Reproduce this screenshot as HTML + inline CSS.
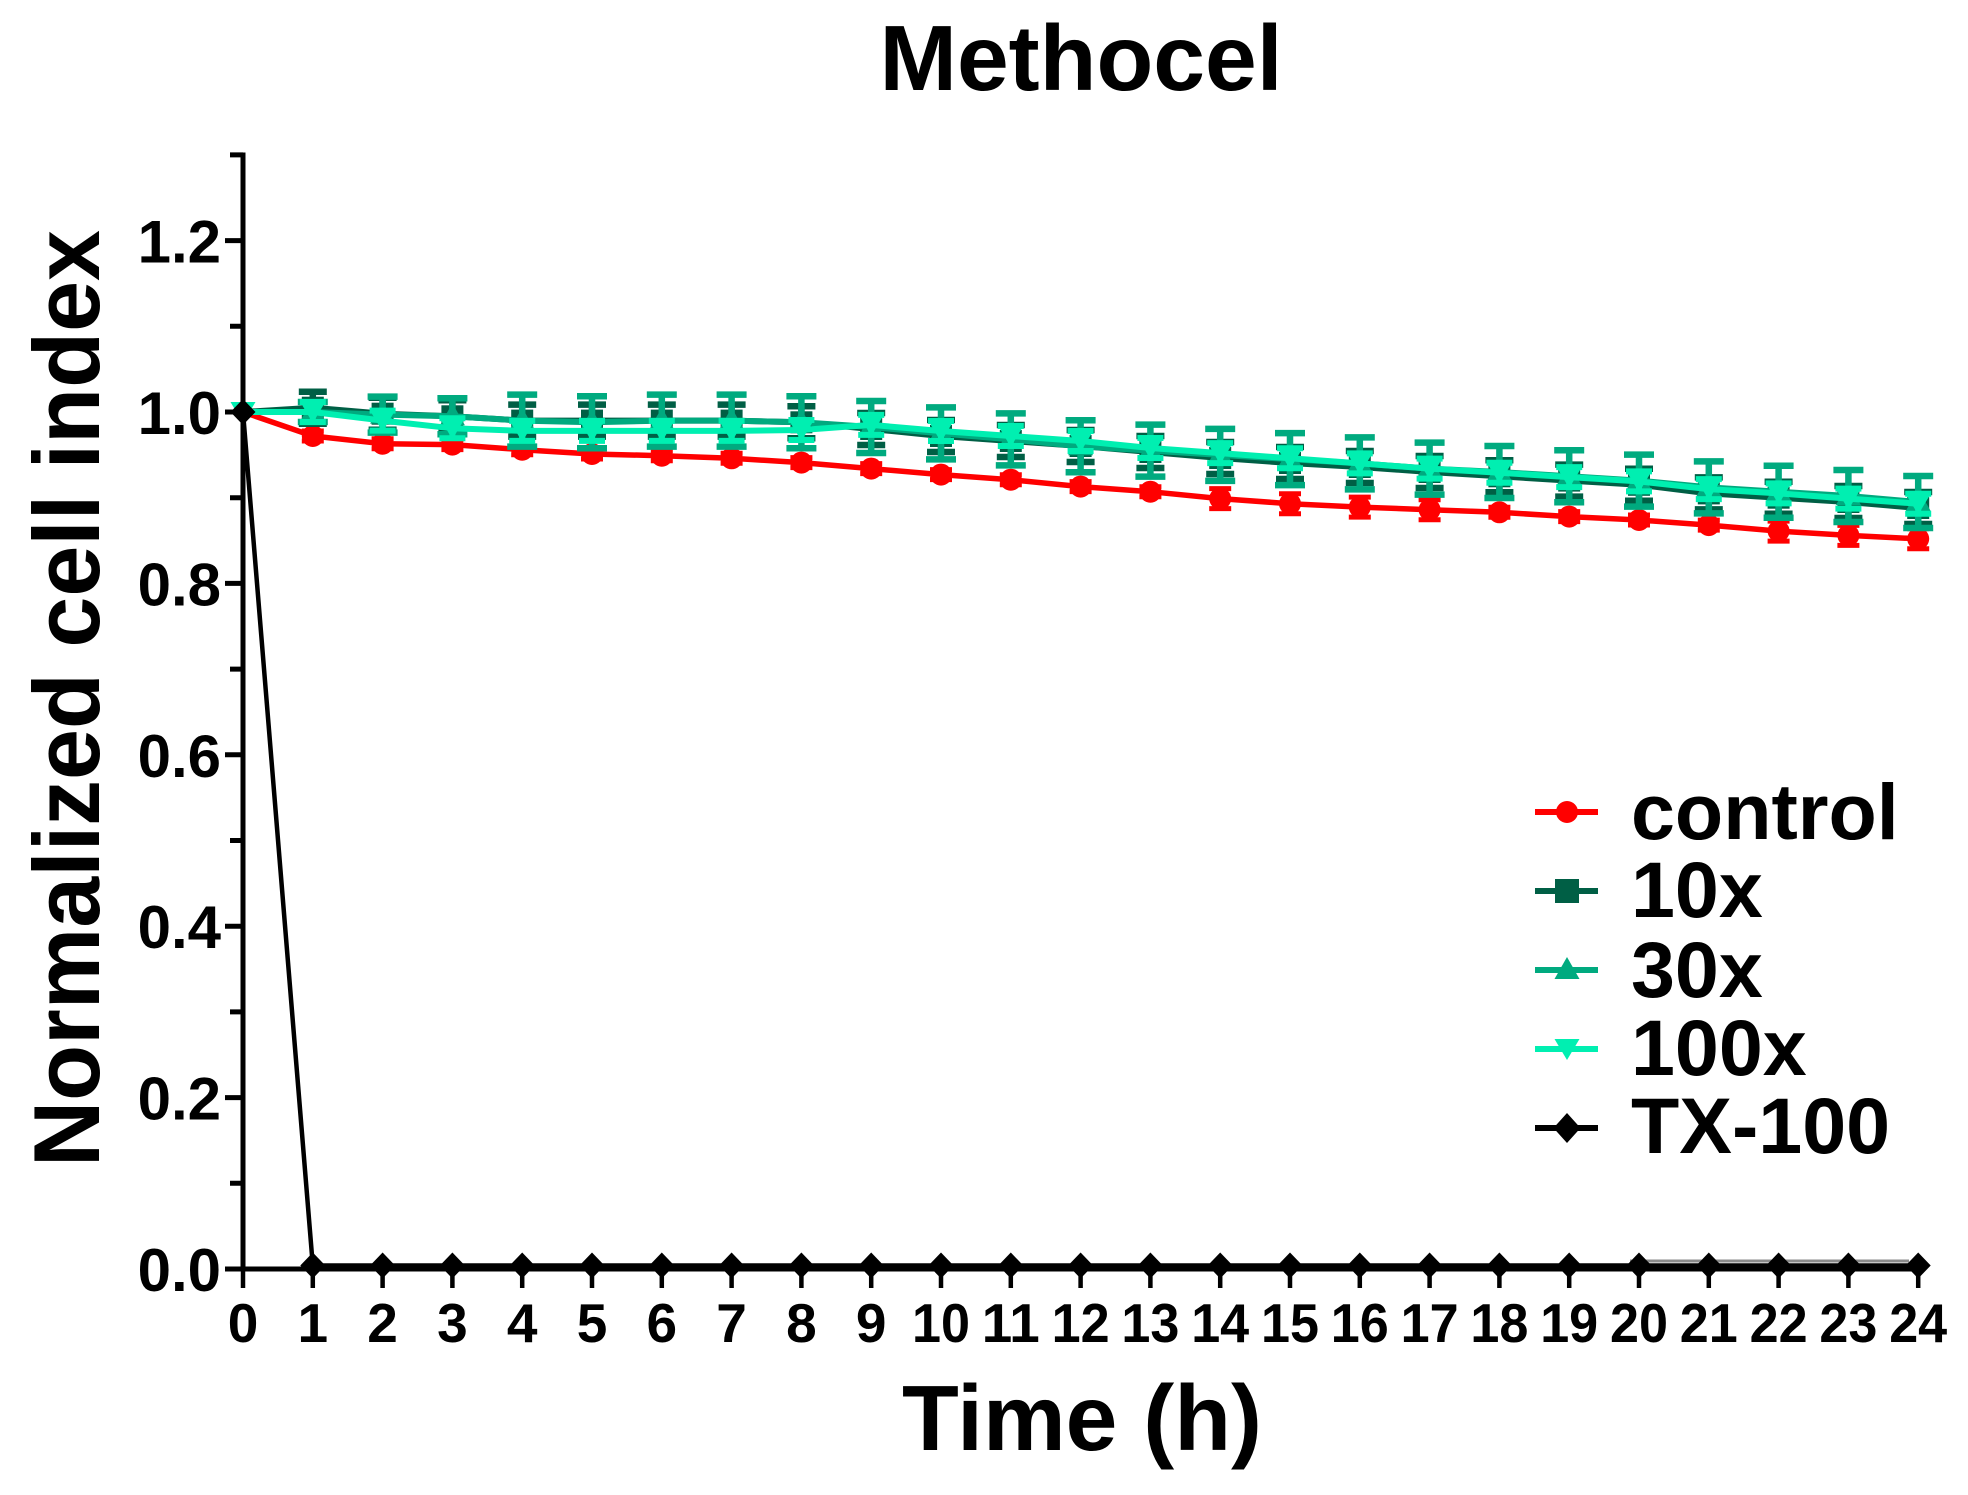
<!DOCTYPE html>
<html>
<head>
<meta charset="utf-8">
<style>
html,body{margin:0;padding:0;background:#fff;}
svg{display:block;}
</style>
</head>
<body>
<svg width="1968" height="1495" viewBox="0 0 1968 1495" xmlns="http://www.w3.org/2000/svg" font-family="'Liberation Sans', Arial, sans-serif" font-weight="bold">
<defs>
<circle id="mc" r="11" fill="#ff0000"/>
<rect id="m10" x="-11" y="-11" width="22" height="22" fill="#005f45"/>
<polygon id="m30" points="0,-13 12.5,9 -12.5,9" fill="#00aa7f"/>
<polygon id="m100" points="0,11 12.5,-10 -12.5,-10" fill="#00efb1"/>
<polygon id="mtx" points="0,-13 12.5,0 0,13 -12.5,0" fill="#000"/>
<path id="ec" d="M-11 -10h22M0 -10V10M-11 10h22" stroke="#ff0000" stroke-width="5" fill="none"/>
<path id="ec2" d="M-11 -5h22M0 -5V5M-11 5h22" stroke="#ff0000" stroke-width="5" fill="none"/>
<path id="e10" d="M-14 -16h28M0 -16V16M-14 16h28" stroke="#005f45" stroke-width="6.5" fill="none"/>
<path id="e30" d="M-15 -26h30M0 -26V26M-15 26h30" stroke="#00aa7f" stroke-width="6.5" fill="none"/>
<path id="e30b" d="M-15 -18h30M0 -18V18M-15 18h30" stroke="#00aa7f" stroke-width="6.5" fill="none"/>
<path id="e30c" d="M-15 -10h30M0 -10V10M-15 10h30" stroke="#00aa7f" stroke-width="6.5" fill="none"/>
<path id="e100" d="M-13 -10h26M0 -10V10M-13 10h26" stroke="#00efb1" stroke-width="6" fill="none"/>
</defs>

<!-- Title -->
<text x="1081" y="90" font-size="93" text-anchor="middle" fill="#000">Methocel</text>

<!-- Axis labels -->
<text transform="translate(99,698.5) rotate(-90)" text-anchor="middle" font-size="94" textLength="937" lengthAdjust="spacingAndGlyphs" fill="#000">Normalized cell index</text>
<text x="1082" y="1450" font-size="93" text-anchor="middle" fill="#000">Time (h)</text>

<!-- Axes -->
<path d="M243 152.5V1271.5" stroke="#000" stroke-width="5" fill="none"/>
<path d="M225 1269H1920" stroke="#000" stroke-width="5" fill="none"/>
<!-- Y major ticks -->
<path d="M225 1269H243M225 1097.6H243M225 926.2H243M225 754.8H243M225 583.4H243M225 412H243M225 240.6H243" stroke="#000" stroke-width="5" fill="none"/>
<!-- Y minor ticks -->
<path d="M230 1183.3H243M230 1011.9H243M230 840.5H243M230 669.1H243M230 497.7H243M230 326.3H243M230 154.9H243" stroke="#000" stroke-width="5" fill="none"/>
<!-- X ticks -->
<path d="M243 1269V1288M312.8 1269V1288M382.6 1269V1288M452.4 1269V1288M522.2 1269V1288M592 1269V1288M661.8 1269V1288M731.6 1269V1288M801.4 1269V1288M871.2 1269V1288M941 1269V1288M1010.8 1269V1288M1080.6 1269V1288M1150.4 1269V1288M1220.2 1269V1288M1290 1269V1288M1359.8 1269V1288M1429.6 1269V1288M1499.4 1269V1288M1569.2 1269V1288M1639 1269V1288M1708.8 1269V1288M1778.6 1269V1288M1848.4 1269V1288M1918.2 1269V1288" stroke="#000" stroke-width="4.5" fill="none"/>

<!-- Y tick labels -->
<g font-size="60" text-anchor="end" fill="#000">
<text x="221" y="1291">0.0</text>
<text x="221" y="1119.6">0.2</text>
<text x="221" y="948.2">0.4</text>
<text x="221" y="776.8">0.6</text>
<text x="221" y="605.4">0.8</text>
<text x="221" y="434">1.0</text>
<text x="221" y="262.6">1.2</text>
</g>

<!-- X tick labels -->
<g font-size="55" text-anchor="middle" fill="#000">
<text x="243" y="1342">0</text>
<text x="312.8" y="1342">1</text>
<text x="382.6" y="1342">2</text>
<text x="452.4" y="1342">3</text>
<text x="522.2" y="1342">4</text>
<text x="592" y="1342">5</text>
<text x="661.8" y="1342">6</text>
<text x="731.6" y="1342">7</text>
<text x="801.4" y="1342">8</text>
<text x="871.2" y="1342">9</text>
<text x="941" y="1342" textLength="58" lengthAdjust="spacingAndGlyphs">10</text>
<text x="1010.8" y="1342" textLength="58" lengthAdjust="spacingAndGlyphs">11</text>
<text x="1080.6" y="1342" textLength="58" lengthAdjust="spacingAndGlyphs">12</text>
<text x="1150.4" y="1342" textLength="58" lengthAdjust="spacingAndGlyphs">13</text>
<text x="1220.2" y="1342" textLength="58" lengthAdjust="spacingAndGlyphs">14</text>
<text x="1290" y="1342" textLength="58" lengthAdjust="spacingAndGlyphs">15</text>
<text x="1359.8" y="1342" textLength="58" lengthAdjust="spacingAndGlyphs">16</text>
<text x="1429.6" y="1342" textLength="58" lengthAdjust="spacingAndGlyphs">17</text>
<text x="1499.4" y="1342" textLength="58" lengthAdjust="spacingAndGlyphs">18</text>
<text x="1569.2" y="1342" textLength="58" lengthAdjust="spacingAndGlyphs">19</text>
<text x="1639" y="1342" textLength="58" lengthAdjust="spacingAndGlyphs">20</text>
<text x="1708.8" y="1342" textLength="58" lengthAdjust="spacingAndGlyphs">21</text>
<text x="1778.6" y="1342" textLength="58" lengthAdjust="spacingAndGlyphs">22</text>
<text x="1848.4" y="1342" textLength="58" lengthAdjust="spacingAndGlyphs">23</text>
<text x="1918.2" y="1342" textLength="58" lengthAdjust="spacingAndGlyphs">24</text>
</g>

<!-- Control series -->
<polyline fill="none" stroke="#ff0000" stroke-width="5.5" stroke-linejoin="round" points="243,412 312.8,436 382.6,443.7 452.4,444.6 522.2,449.7 592,454 661.8,455.7 731.6,458.3 801.4,462.6 871.2,468.6 941,474.6 1010.8,479.7 1080.6,486.6 1150.4,491.7 1220.2,498.6 1290,503.7 1359.8,507.1 1429.6,509.7 1499.4,512.3 1569.2,516.6 1639,520 1708.8,525.1 1778.6,531.1 1848.4,535.4 1918.2,538.8"/>
<use href="#ec2" x="312.8" y="436"/>
<use href="#ec2" x="382.6" y="443.7"/>
<use href="#ec2" x="452.4" y="444.6"/>
<use href="#ec2" x="522.2" y="449.7"/>
<use href="#ec2" x="592" y="454"/>
<use href="#ec2" x="661.8" y="455.7"/>
<use href="#ec2" x="731.6" y="458.3"/>
<use href="#ec2" x="801.4" y="462.6"/>
<use href="#ec2" x="871.2" y="468.6"/>
<use href="#ec2" x="941" y="474.6"/>
<use href="#ec2" x="1010.8" y="479.7"/>
<use href="#ec2" x="1080.6" y="486.6"/>
<use href="#ec2" x="1150.4" y="491.7"/>
<use href="#ec" x="1220.2" y="498.6"/>
<use href="#ec" x="1290" y="503.7"/>
<use href="#ec" x="1359.8" y="507.1"/>
<use href="#ec" x="1429.6" y="509.7"/>
<use href="#ec2" x="1499.4" y="512.3"/>
<use href="#ec2" x="1569.2" y="516.6"/>
<use href="#ec2" x="1639" y="520"/>
<use href="#ec2" x="1708.8" y="525.1"/>
<use href="#ec" x="1778.6" y="531.1"/>
<use href="#ec" x="1848.4" y="535.4"/>
<use href="#ec" x="1918.2" y="538.8"/>
<use href="#mc" x="312.8" y="436"/>
<use href="#mc" x="382.6" y="443.7"/>
<use href="#mc" x="452.4" y="444.6"/>
<use href="#mc" x="522.2" y="449.7"/>
<use href="#mc" x="592" y="454"/>
<use href="#mc" x="661.8" y="455.7"/>
<use href="#mc" x="731.6" y="458.3"/>
<use href="#mc" x="801.4" y="462.6"/>
<use href="#mc" x="871.2" y="468.6"/>
<use href="#mc" x="941" y="474.6"/>
<use href="#mc" x="1010.8" y="479.7"/>
<use href="#mc" x="1080.6" y="486.6"/>
<use href="#mc" x="1150.4" y="491.7"/>
<use href="#mc" x="1220.2" y="498.6"/>
<use href="#mc" x="1290" y="503.7"/>
<use href="#mc" x="1359.8" y="507.1"/>
<use href="#mc" x="1429.6" y="509.7"/>
<use href="#mc" x="1499.4" y="512.3"/>
<use href="#mc" x="1569.2" y="516.6"/>
<use href="#mc" x="1639" y="520"/>
<use href="#mc" x="1708.8" y="525.1"/>
<use href="#mc" x="1778.6" y="531.1"/>
<use href="#mc" x="1848.4" y="535.4"/>
<use href="#mc" x="1918.2" y="538.8"/>

<!-- 10x series -->
<polyline fill="none" stroke="#005f45" stroke-width="6" stroke-linejoin="round" points="243,412 312.8,407.7 382.6,413.7 452.4,416.3 522.2,420.6 592,420.6 661.8,420.6 731.6,420.6 801.4,422.3 871.2,429 941,436 1010.8,441 1080.6,446 1150.4,452 1220.2,458 1290,463 1359.8,467 1429.6,472 1499.4,476.3 1569.2,480.6 1639,484.8 1708.8,493.4 1778.6,497.7 1848.4,502 1918.2,508"/>
<use href="#e10" x="312.8" y="407.7"/>
<use href="#e10" x="382.6" y="413.7"/>
<use href="#e10" x="452.4" y="416.3"/>
<use href="#e10" x="522.2" y="420.6"/>
<use href="#e10" x="592" y="420.6"/>
<use href="#e10" x="661.8" y="420.6"/>
<use href="#e10" x="731.6" y="420.6"/>
<use href="#e10" x="801.4" y="422.3"/>
<use href="#e10" x="871.2" y="429"/>
<use href="#e10" x="941" y="436"/>
<use href="#e10" x="1010.8" y="441"/>
<use href="#e10" x="1080.6" y="446"/>
<use href="#e10" x="1150.4" y="452"/>
<use href="#e10" x="1220.2" y="458"/>
<use href="#e10" x="1290" y="463"/>
<use href="#e10" x="1359.8" y="467"/>
<use href="#e10" x="1429.6" y="472"/>
<use href="#e10" x="1499.4" y="476.3"/>
<use href="#e10" x="1569.2" y="480.6"/>
<use href="#e10" x="1639" y="484.8"/>
<use href="#e10" x="1708.8" y="493.4"/>
<use href="#e10" x="1778.6" y="497.7"/>
<use href="#e10" x="1848.4" y="502"/>
<use href="#e10" x="1918.2" y="508"/>
<use href="#m10" x="312.8" y="407.7"/>
<use href="#m10" x="382.6" y="413.7"/>
<use href="#m10" x="452.4" y="416.3"/>
<use href="#m10" x="522.2" y="420.6"/>
<use href="#m10" x="592" y="420.6"/>
<use href="#m10" x="661.8" y="420.6"/>
<use href="#m10" x="731.6" y="420.6"/>
<use href="#m10" x="801.4" y="422.3"/>
<use href="#m10" x="871.2" y="429"/>
<use href="#m10" x="941" y="436"/>
<use href="#m10" x="1010.8" y="441"/>
<use href="#m10" x="1080.6" y="446"/>
<use href="#m10" x="1150.4" y="452"/>
<use href="#m10" x="1220.2" y="458"/>
<use href="#m10" x="1290" y="463"/>
<use href="#m10" x="1359.8" y="467"/>
<use href="#m10" x="1429.6" y="472"/>
<use href="#m10" x="1499.4" y="476.3"/>
<use href="#m10" x="1569.2" y="480.6"/>
<use href="#m10" x="1639" y="484.8"/>
<use href="#m10" x="1708.8" y="493.4"/>
<use href="#m10" x="1778.6" y="497.7"/>
<use href="#m10" x="1848.4" y="502"/>
<use href="#m10" x="1918.2" y="508"/>

<!-- 30x series -->
<polyline fill="none" stroke="#00aa7f" stroke-width="6" stroke-linejoin="round" points="243,412 312.8,412 382.6,414.6 452.4,416.3 522.2,420.6 592,422.3 661.8,420.6 731.6,420.6 801.4,422.3 871.2,427 941,433.4 1010.8,439.4 1080.6,446.3 1150.4,450.6 1220.2,454.9 1290,459.1 1359.8,463.4 1429.6,468.6 1499.4,472 1569.2,476.3 1639,480.6 1708.8,487.4 1778.6,491.8 1848.4,496 1918.2,502"/>
<use href="#e30c" x="312.8" y="412"/>
<use href="#e30b" x="382.6" y="414.6"/>
<use href="#e30b" x="452.4" y="416.3"/>
<use href="#e30" x="522.2" y="420.6"/>
<use href="#e30" x="592" y="422.3"/>
<use href="#e30" x="661.8" y="420.6"/>
<use href="#e30" x="731.6" y="420.6"/>
<use href="#e30" x="801.4" y="422.3"/>
<use href="#e30" x="871.2" y="427"/>
<use href="#e30" x="941" y="433.4"/>
<use href="#e30" x="1010.8" y="439.4"/>
<use href="#e30" x="1080.6" y="446.3"/>
<use href="#e30" x="1150.4" y="450.6"/>
<use href="#e30" x="1220.2" y="454.9"/>
<use href="#e30" x="1290" y="459.1"/>
<use href="#e30" x="1359.8" y="463.4"/>
<use href="#e30" x="1429.6" y="468.6"/>
<use href="#e30" x="1499.4" y="472"/>
<use href="#e30" x="1569.2" y="476.3"/>
<use href="#e30" x="1639" y="480.6"/>
<use href="#e30" x="1708.8" y="487.4"/>
<use href="#e30" x="1778.6" y="491.8"/>
<use href="#e30" x="1848.4" y="496"/>
<use href="#e30" x="1918.2" y="502"/>
<use href="#m30" x="312.8" y="412"/>
<use href="#m30" x="382.6" y="414.6"/>
<use href="#m30" x="452.4" y="416.3"/>
<use href="#m30" x="522.2" y="420.6"/>
<use href="#m30" x="592" y="422.3"/>
<use href="#m30" x="661.8" y="420.6"/>
<use href="#m30" x="731.6" y="420.6"/>
<use href="#m30" x="801.4" y="422.3"/>
<use href="#m30" x="871.2" y="427"/>
<use href="#m30" x="941" y="433.4"/>
<use href="#m30" x="1010.8" y="439.4"/>
<use href="#m30" x="1080.6" y="446.3"/>
<use href="#m30" x="1150.4" y="450.6"/>
<use href="#m30" x="1220.2" y="454.9"/>
<use href="#m30" x="1290" y="459.1"/>
<use href="#m30" x="1359.8" y="463.4"/>
<use href="#m30" x="1429.6" y="468.6"/>
<use href="#m30" x="1499.4" y="472"/>
<use href="#m30" x="1569.2" y="476.3"/>
<use href="#m30" x="1639" y="480.6"/>
<use href="#m30" x="1708.8" y="487.4"/>
<use href="#m30" x="1778.6" y="491.8"/>
<use href="#m30" x="1848.4" y="496"/>
<use href="#m30" x="1918.2" y="502"/>

<!-- 100x series -->
<polyline fill="none" stroke="#00efb1" stroke-width="6" stroke-linejoin="round" points="243,412 312.8,412 382.6,420.6 452.4,428.3 522.2,430.9 592,430.9 661.8,430.9 731.6,430.9 801.4,430 871.2,424.9 941,431 1010.8,436 1080.6,441 1150.4,448 1220.2,453.1 1290,458.3 1359.8,463.4 1429.6,468.6 1499.4,472.8 1569.2,477.1 1639,481.4 1708.8,489.1 1778.6,493.4 1848.4,498.6 1918.2,503.7"/>
<use href="#e100" x="312.8" y="412"/>
<use href="#e100" x="382.6" y="420.6"/>
<use href="#e100" x="452.4" y="428.3"/>
<use href="#e100" x="522.2" y="430.9"/>
<use href="#e100" x="592" y="430.9"/>
<use href="#e100" x="661.8" y="430.9"/>
<use href="#e100" x="731.6" y="430.9"/>
<use href="#e100" x="801.4" y="430"/>
<use href="#e100" x="871.2" y="424.9"/>
<use href="#e100" x="941" y="431"/>
<use href="#e100" x="1010.8" y="436"/>
<use href="#e100" x="1080.6" y="441"/>
<use href="#e100" x="1150.4" y="448"/>
<use href="#e100" x="1220.2" y="453.1"/>
<use href="#e100" x="1290" y="458.3"/>
<use href="#e100" x="1359.8" y="463.4"/>
<use href="#e100" x="1429.6" y="468.6"/>
<use href="#e100" x="1499.4" y="472.8"/>
<use href="#e100" x="1569.2" y="477.1"/>
<use href="#e100" x="1639" y="481.4"/>
<use href="#e100" x="1708.8" y="489.1"/>
<use href="#e100" x="1778.6" y="493.4"/>
<use href="#e100" x="1848.4" y="498.6"/>
<use href="#e100" x="1918.2" y="503.7"/>
<use href="#m100" x="243" y="412"/>
<use href="#m100" x="312.8" y="412"/>
<use href="#m100" x="382.6" y="420.6"/>
<use href="#m100" x="452.4" y="428.3"/>
<use href="#m100" x="522.2" y="430.9"/>
<use href="#m100" x="592" y="430.9"/>
<use href="#m100" x="661.8" y="430.9"/>
<use href="#m100" x="731.6" y="430.9"/>
<use href="#m100" x="801.4" y="430"/>
<use href="#m100" x="871.2" y="424.9"/>
<use href="#m100" x="941" y="431"/>
<use href="#m100" x="1010.8" y="436"/>
<use href="#m100" x="1080.6" y="441"/>
<use href="#m100" x="1150.4" y="448"/>
<use href="#m100" x="1220.2" y="453.1"/>
<use href="#m100" x="1290" y="458.3"/>
<use href="#m100" x="1359.8" y="463.4"/>
<use href="#m100" x="1429.6" y="468.6"/>
<use href="#m100" x="1499.4" y="472.8"/>
<use href="#m100" x="1569.2" y="477.1"/>
<use href="#m100" x="1639" y="481.4"/>
<use href="#m100" x="1708.8" y="489.1"/>
<use href="#m100" x="1778.6" y="493.4"/>
<use href="#m100" x="1848.4" y="498.6"/>
<use href="#m100" x="1918.2" y="503.7"/>

<!-- TX-100 series -->
<path d="M1630 1261H1909" stroke="#8a8a8a" stroke-width="3" fill="none"/>
<polyline fill="none" stroke="#000" stroke-width="4.5" stroke-linejoin="round" points="243,412 312.8,1265.5 382.6,1265.5 452.4,1265.5 522.2,1265.5 592,1265.5 661.8,1265.5 731.6,1265.5 801.4,1265.5 871.2,1265.5 941,1265.5 1010.8,1265.5 1080.6,1265.5 1150.4,1265.5 1220.2,1265.5 1290,1265.5 1359.8,1265.5 1429.6,1265.5 1499.4,1265.5 1569.2,1265.5 1639,1265.5 1708.8,1265.5 1778.6,1265.5 1848.4,1265.5 1918.2,1265.5"/>
<use href="#mtx" x="243" y="412"/>
<use href="#mtx" x="312.8" y="1265.5"/>
<use href="#mtx" x="382.6" y="1265.5"/>
<use href="#mtx" x="452.4" y="1265.5"/>
<use href="#mtx" x="522.2" y="1265.5"/>
<use href="#mtx" x="592" y="1265.5"/>
<use href="#mtx" x="661.8" y="1265.5"/>
<use href="#mtx" x="731.6" y="1265.5"/>
<use href="#mtx" x="801.4" y="1265.5"/>
<use href="#mtx" x="871.2" y="1265.5"/>
<use href="#mtx" x="941" y="1265.5"/>
<use href="#mtx" x="1010.8" y="1265.5"/>
<use href="#mtx" x="1080.6" y="1265.5"/>
<use href="#mtx" x="1150.4" y="1265.5"/>
<use href="#mtx" x="1220.2" y="1265.5"/>
<use href="#mtx" x="1290" y="1265.5"/>
<use href="#mtx" x="1359.8" y="1265.5"/>
<use href="#mtx" x="1429.6" y="1265.5"/>
<use href="#mtx" x="1499.4" y="1265.5"/>
<use href="#mtx" x="1569.2" y="1265.5"/>
<use href="#mtx" x="1639" y="1265.5"/>
<use href="#mtx" x="1708.8" y="1265.5"/>
<use href="#mtx" x="1778.6" y="1265.5"/>
<use href="#mtx" x="1848.4" y="1265.5"/>
<use href="#mtx" x="1918.2" y="1265.5"/>

<!-- Legend -->
<path d="M1535 812H1598" stroke="#ff0000" stroke-width="6" fill="none"/>
<use href="#mc" x="1567" y="812"/>
<path d="M1535 891H1598" stroke="#005f45" stroke-width="6" fill="none"/>
<rect x="1555" y="879" width="24" height="24" fill="#005f45"/>
<path d="M1535 970H1598" stroke="#00aa7f" stroke-width="6" fill="none"/>
<use href="#m30" x="1567" y="970"/>
<path d="M1535 1049H1598" stroke="#00efb1" stroke-width="6" fill="none"/>
<use href="#m100" x="1567" y="1049"/>
<path d="M1535 1128H1598" stroke="#000" stroke-width="6" fill="none"/>
<polygon points="1567,1113 1580.5,1128 1567,1143 1553.5,1128" fill="#000"/>
<g font-size="79" fill="#000">
<text x="1631" y="839">control</text>
<text x="1631" y="917">10x</text>
<text x="1631" y="997">30x</text>
<text x="1631" y="1075">100x</text>
<text x="1631" y="1153">TX-100</text>
</g>
</svg>
</body>
</html>
